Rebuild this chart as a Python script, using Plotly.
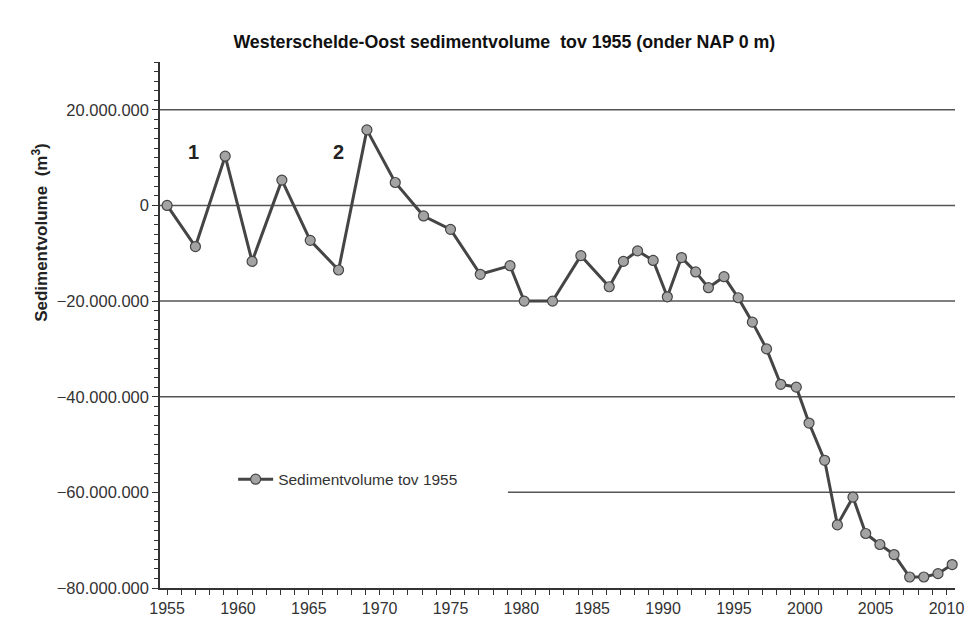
import plotly.graph_objects as go

jaren = [1955.0, 1957.0, 1959.1, 1961.0, 1963.1, 1965.1, 1967.1, 1969.1, 1971.1, 1973.1,
         1975.0, 1977.1, 1979.2, 1980.2, 1982.2, 1984.2, 1986.2, 1987.2, 1988.2, 1989.3,
         1990.3, 1991.3, 1992.3, 1993.2, 1994.3, 1995.3, 1996.3, 1997.3, 1998.3, 1999.4,
         2000.3, 2001.4, 2002.3, 2003.4, 2004.3, 2005.3, 2006.3, 2007.4, 2008.4, 2009.4,
         2010.4]
volume_mln = [0.0, -8.6, 10.3, -11.7, 5.3, -7.3, -13.5, 15.8, 4.8, -2.2,
              -5.0, -14.4, -12.6, -20.0, -20.0, -10.5, -17.0, -11.7, -9.5, -11.5,
              -19.1, -10.9, -13.9, -17.2, -14.9, -19.3, -24.4, -30.0, -37.4, -38.0,
              -45.5, -53.3, -66.8, -61.0, -68.6, -70.9, -73.0, -77.7, -77.7, -77.0,
              -75.1]
volume = [v * 1e6 for v in volume_mln]

y_ticks = [20e6, 0, -20e6, -40e6, -60e6, -80e6]
grid_y = [20e6, 0, -20e6, -40e6]
grid_60_start = 1979.05  # legenda bedekt het eerste stuk van de -60 mln lijn

labels = ["1", "2"]
label_x = [1956.85, 1967.1]
label_y = [11.1e6, 11.1e6]

font = "Liberation Sans, Arial, sans-serif"
fig = go.Figure()
fig.add_trace(go.Scatter(
    x=jaren, y=volume, mode="lines+markers", name="Sedimentvolume tov 1955",
    line=dict(color="#454545", width=3), cliponaxis=False,
    marker=dict(size=10, color="#a3a3a3", line=dict(color="#454545", width=1.2))))

# horizontale rasterlijnen
for gy in grid_y:
    fig.add_shape(type="line", xref="x", yref="y", x0=1954.5, x1=2010.6, y0=gy, y1=gy,
                  line=dict(color="#555555", width=1.5), layer="below")
fig.add_shape(type="line", xref="x", yref="y", x0=grid_60_start, x1=2010.6, y0=-60e6, y1=-60e6,
              line=dict(color="#555555", width=1.5), layer="below")

for t, xx, yy in zip(labels, label_x, label_y):
    fig.add_annotation(x=xx, y=yy, text="<b>" + t + "</b>", showarrow=False,
                       font=dict(size=20, color="#222222", family=font))

fig.add_annotation(xref="paper", yref="paper", x=-0.151, y=0.677, xanchor="center", yanchor="middle",
                   text="<b>Sedimentvolume  (m<sup>3</sup>)</b>",
                   textangle=-90, showarrow=False, font=dict(size=17, color="#222222", family=font))

fig.update_layout(
    width=968, height=619,
    margin=dict(l=160, r=13, t=62, b=31),
    paper_bgcolor="white", plot_bgcolor="white",
    separators=",.",
    font=dict(family=font, size=15, color="#333333"),
    title=dict(text="<b>Westerschelde-Oost sedimentvolume  tov 1955 (onder NAP 0 m)</b>",
               x=0.521, xanchor="center", y=0.932, yanchor="middle",
               font=dict(size=17.8, color="#111111", family=font)),
    showlegend=True,
    legend=dict(x=0.092, y=0.206, xanchor="left", yanchor="middle", bgcolor="rgba(0,0,0,0)",
                font=dict(size=15.5, color="#333333"), itemwidth=35),
    xaxis=dict(range=[1954.5, 2010.6], tick0=1955, dtick=5, showgrid=False, zeroline=False,
               automargin=False,
               showline=True, linecolor="#333333", linewidth=1.5, ticks="outside", ticklen=5,
               tickcolor="#333333", tickfont=dict(size=16, color="#333333"),
               minor=dict(dtick=1, ticks="outside", ticklen=5, tickcolor="#333333", showgrid=False)),
    yaxis=dict(range=[-80e6, 30e6], tickvals=y_ticks, tickformat=",d", showgrid=False, zeroline=False,
               automargin=False,
               showline=True, linecolor="#333333", linewidth=1.5, ticks="outside", ticklen=6,
               tickcolor="#333333", tickfont=dict(size=16.5, color="#333333"),
               minor=dict(dtick=2e6, tick0=0, ticks="outside", ticklen=4, tickcolor="#333333", showgrid=False)),
)

# body-marge weg zodat de figuur precies in het venster past
fig.write_html("out.html", config={"displayModeBar": False},
               post_script="document.body.style.margin='0';document.body.style.overflow='hidden';")
